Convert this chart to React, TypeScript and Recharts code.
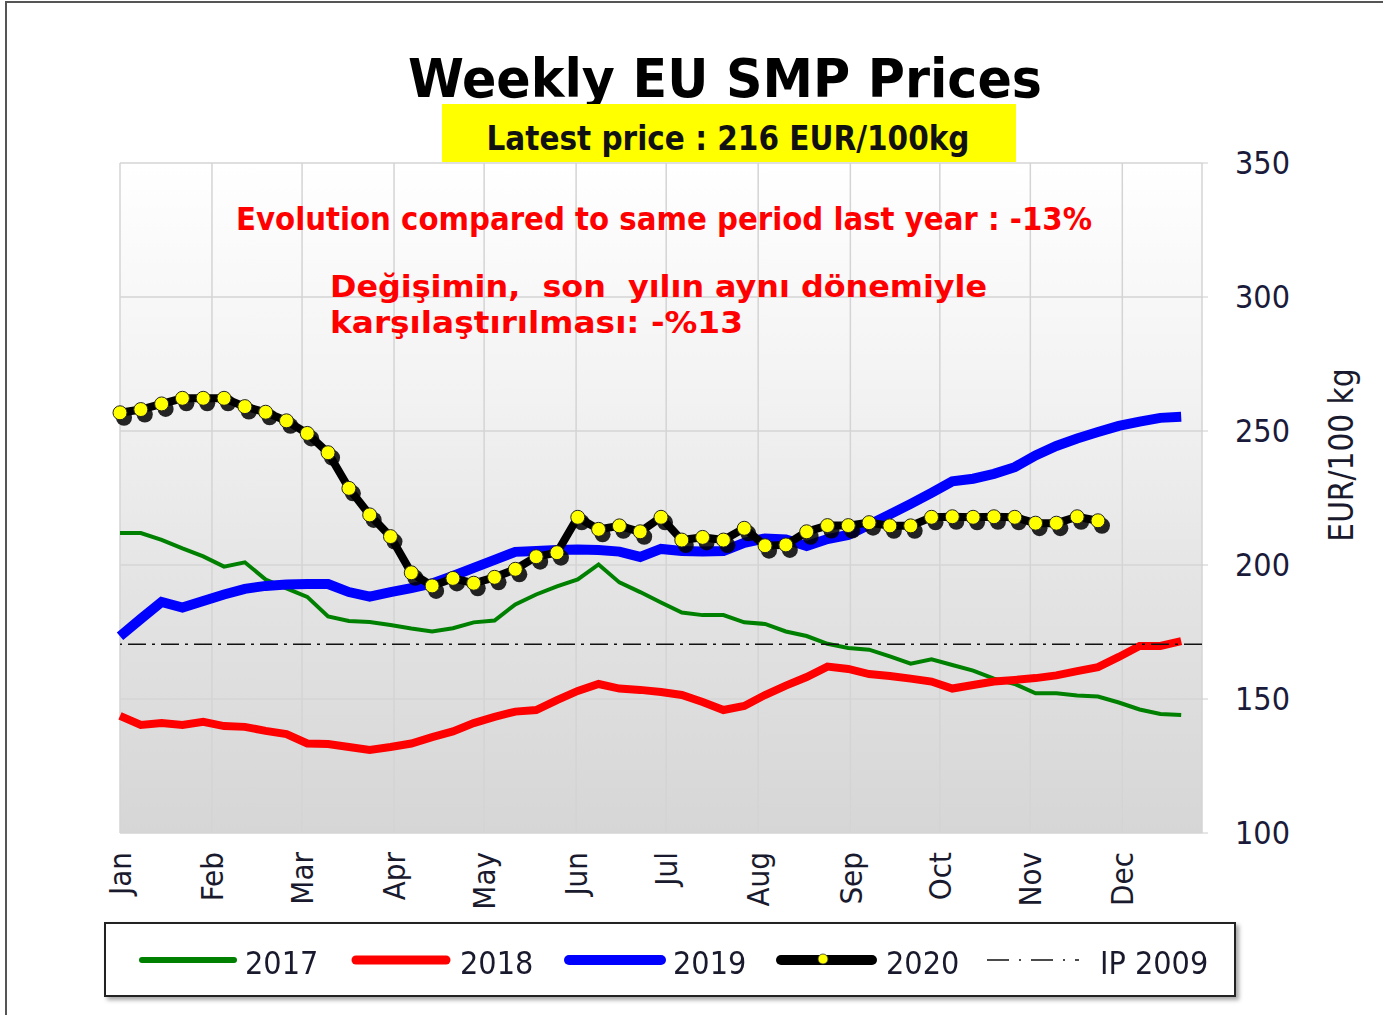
import React from "react";
import { CartesianGrid, Line, LineChart, ReferenceLine, XAxis, YAxis } from "recharts";

// week number (1..52) of each weekly quotation
const weeks = [
  1, 2, 3, 4, 5, 6, 7, 8, 9, 10, 11, 12, 13, 14, 15, 16, 17, 18, 19, 20, 21, 22, 23, 24, 25, 26,
  27, 28, 29, 30, 31, 32, 33, 34, 35, 36, 37, 38, 39, 40, 41, 42, 43, 44, 45, 46, 47, 48, 49, 50, 51, 52,
];

const months = ["Jan", "Feb", "Mar", "Apr", "May", "Jun", "Jul", "Aug", "Sep", "Oct", "Nov", "Dec"];
const monthTicks = [1, 5.42, 9.75, 14.17, 18.5, 22.92, 27.25, 31.67, 36.1, 40.4, 44.75, 49.17];
const yTicks = [100, 150, 200, 250, 300, 350];

const p2017 = [
  211.9, 211.9, 209.4, 206.2, 203.2, 199.4, 201.0, 194.6, 191.3, 188.1, 180.8, 179.1, 178.7, 177.6, 176.3, 175.2,
  176.4, 178.6, 179.3, 185.3, 189.0, 192.0, 194.6, 200.2, 193.5, 189.9, 186.0, 182.3, 181.3, 181.3, 178.6, 178.0,
  175.2, 173.5, 170.6, 169.0, 168.4, 165.9, 163.2, 164.8, 162.7, 160.6, 157.6, 155.6, 152.1, 152.1, 151.3, 150.9,
  148.7, 146.1, 144.4, 144.0,
];
const p2018 = [
  143.7, 140.3, 141.0, 140.3, 141.5, 139.9, 139.6, 138.1, 136.9, 133.4, 133.2, 132.1, 131.0, 132.1, 133.4, 135.8,
  137.9, 141.0, 143.3, 145.3, 145.9, 149.6, 153.0, 155.6, 153.9, 153.4, 152.6, 151.5, 148.9, 145.9, 147.4, 151.5,
  155.0, 158.2, 162.1, 161.2, 159.3, 158.6, 157.6, 156.5, 153.9, 155.2, 156.5, 157.1, 157.8, 158.8, 160.4, 161.9,
  165.7, 169.8, 169.8, 171.6,
];
const p2019 = [
  173.4, 179.9, 186.2, 184.1, 186.6, 189.0, 191.1, 192.2, 192.7, 192.9, 192.9, 189.9, 188.2, 189.9, 191.4, 193.1,
  195.9, 198.9, 201.9, 204.9, 205.2, 205.6, 205.8, 205.6, 205.0, 203.0, 206.0, 205.2, 205.0, 205.2, 208.3, 209.9,
  209.5, 207.1, 209.7, 211.2, 215.0, 218.9, 222.8, 226.9, 231.2, 232.2, 234.0, 236.5, 240.9, 244.4, 247.2, 249.6,
  251.9, 253.5, 254.9, 255.3,
];
const p2020 = [
  256.8, 258.0, 260.1, 262.2, 262.2, 262.2, 259.1, 257.0, 253.8, 249.1, 241.9, 228.6, 218.7, 210.6, 197.1, 192.2,
  195.0, 193.2, 195.4, 198.4, 203.1, 204.6, 217.8, 213.3, 214.6, 212.4, 217.8, 209.3, 210.3, 209.3, 213.7, 207.2,
  207.5, 212.4, 214.7, 214.7, 215.8, 214.6, 214.6, 217.8, 218.0, 217.8, 218.0, 217.8, 215.6, 215.6, 218.0, 216.5,
];
const ip2009 = 170.4;

const data = weeks.map((week, i) => ({
  week,
  y2017: p2017[i],
  y2018: p2018[i],
  y2019: p2019[i],
  y2020: p2020[i],
}));

const FONT = "'DejaVu Sans', Verdana, sans-serif";
const COND = "'DejaVu Sans Condensed', 'DejaVu Sans', sans-serif";

function MonthTick(props: any) {
  const { x, y, payload } = props;
  const idx = monthTicks.indexOf(payload.value);
  return (
    <text
      x={x}
      y={y}
      dy="0.36em"
      transform={`rotate(-90, ${x}, ${y})`}
      textAnchor="end"
      fontFamily={COND}
      fontSize={31}
      fill="#1a1a2e"
    >
      {months[idx]}
    </text>
  );
}

function Dot2020(props: any) {
  const { cx, cy, index } = props;
  if (cx == null || cy == null) return <g key={index} />;
  return (
    <g key={index}>
      <circle cx={cx + 4} cy={cy + 5} r={8} fill="#000" opacity={0.85} />
      <circle cx={cx} cy={cy} r={7} fill="#ffff00" stroke="#222" strokeWidth={1} />
    </g>
  );
}

function LegendBox() {
  return (
    <svg
      width={1132}
      height={75}
      style={{ position: "absolute", left: 104, top: 922, display: "block", filter: "drop-shadow(3px 3px 2px rgba(0,0,0,0.35))" }}
    >
      <rect x={1} y={1} width={1130} height={73} fill="#fff" stroke="#222" strokeWidth={2} />
      <line x1={38} x2={130} y1={38} y2={38} stroke="#008000" strokeWidth={6} strokeLinecap="round" />
      <text x={141} y={52} fontFamily={COND} fontSize={32} fill="#1a1a2e">2017</text>
      <line x1={252} x2={342} y1={38} y2={38} stroke="#ff0000" strokeWidth={9} strokeLinecap="round" />
      <text x={356} y={52} fontFamily={COND} fontSize={32} fill="#1a1a2e">2018</text>
      <line x1={465} x2={557} y1={38} y2={38} stroke="#0000ff" strokeWidth={10} strokeLinecap="round" />
      <text x={569} y={52} fontFamily={COND} fontSize={32} fill="#1a1a2e">2019</text>
      <line x1={677} x2={768} y1={38} y2={38} stroke="#000" strokeWidth={10} strokeLinecap="round" />
      <circle cx={719} cy={37} r={5} fill="#ffff00" stroke="#333" strokeWidth={0.8} />
      <text x={782} y={52} fontFamily={COND} fontSize={32} fill="#1a1a2e">2020</text>
      <line x1={883} x2={975} y1={38} y2={38} stroke="#111" strokeWidth={1.5} strokeDasharray="22 10 2 10" />
      <text x={996} y={52} fontFamily={COND} fontSize={32} fill="#1a1a2e">IP 2009</text>
    </svg>
  );
}

export default function App() {
  return (
    <div style={{ position: "absolute", left: 0, top: 0, width: 1383, height: 1015, background: "#fff" }}>
      <div
        style={{
          position: "absolute",
          left: 5,
          top: 1,
          width: 1376,
          height: 1012,
          borderTop: "2px solid #555",
          borderLeft: "2px solid #555",
        }}
      />
      <div
        style={{
          position: "absolute",
          left: 120,
          top: 163,
          width: 1082,
          height: 670,
          background: "linear-gradient(to bottom, #ffffff 0%, #f2f2f2 35%, #e3e3e3 65%, #d6d6d6 100%)",
        }}
      />
      <div style={{ position: "absolute", left: 0, top: 0 }}>
        <LineChart width={1383} height={1015} data={data} margin={{ top: 163, right: 71, bottom: 92, left: 120 }}>
          <CartesianGrid stroke="#d4d4d4" strokeWidth={1.5} />
          <XAxis
            dataKey="week"
            type="number"
            domain={[1, 53]}
            ticks={monthTicks}
            axisLine={false}
            tickLine={false}
            tickSize={0}
            tickMargin={19}
            height={90}
            interval={0}
            tick={<MonthTick />}
          />
          <YAxis
            orientation="right"
            domain={[100, 350]}
            ticks={yTicks}
            width={110}
            axisLine={false}
            tickLine={{ stroke: "#cccccc" }}
            tickSize={6}
            tickMargin={27}
            tick={{ fontFamily: COND, fontSize: 32, fill: "#1a1a3a" }}
          />
          <Line dataKey="y2017" stroke="#008000" strokeWidth={4} dot={false} isAnimationActive={false} />
          <Line dataKey="y2018" stroke="#ff0000" strokeWidth={8} dot={false} isAnimationActive={false} />
          <Line dataKey="y2019" stroke="#0000ff" strokeWidth={10} dot={false} isAnimationActive={false} />
          <ReferenceLine y={ip2009} stroke="#111" strokeWidth={1.5} strokeDasharray="18 6 3 6" />
          <Line
            dataKey="y2020"
            stroke="#000"
            strokeWidth={8}
            dot={<Dot2020 />}
            isAnimationActive={false}
            connectNulls={false}
          />
        </LineChart>
      </div>
      <svg width={1383} height={1015} style={{ position: "absolute", left: 0, top: 0, pointerEvents: "none" }}>
        <text x={725} y={97} textAnchor="middle" fontFamily={COND} fontWeight="bold" fontSize={54} fill="#000"
          textLength={634} lengthAdjust="spacingAndGlyphs">
          Weekly EU SMP Prices
        </text>
        <rect x={442} y={104} width={574} height={58} fill="#ffff00" />
        <text x={728} y={150} textAnchor="middle" fontFamily={COND} fontWeight="bold" fontSize={33} fill="#111"
          textLength={483} lengthAdjust="spacingAndGlyphs">
          Latest price : 216 EUR/100kg
        </text>
        <text x={664} y={230} textAnchor="middle" fontFamily={COND} fontWeight="bold" fontSize={32} fill="#ff0000"
          textLength={856} lengthAdjust="spacingAndGlyphs">
          Evolution compared to same period last year : -13%
        </text>
        <text x={330} y={297} fontFamily={FONT} fontWeight="bold" fontSize={30} fill="#ff0000"
          style={{ whiteSpace: "pre" }} textLength={657} lengthAdjust="spacingAndGlyphs">
          {"Değişimin,  son  yılın aynı dönemiyle"}
        </text>
        <text x={330} y={333} fontFamily={FONT} fontWeight="bold" fontSize={30} fill="#ff0000"
          textLength={413} lengthAdjust="spacingAndGlyphs">
          karşılaştırılması: -%13
        </text>
        <text x={1341} y={455} dy="0.36em" textAnchor="middle" transform="rotate(-90, 1341, 455)"
          fontFamily={COND} fontSize={33} fill="#1a1a2e">
          EUR/100 kg
        </text>
      </svg>
      <LegendBox />
    </div>
  );
}
